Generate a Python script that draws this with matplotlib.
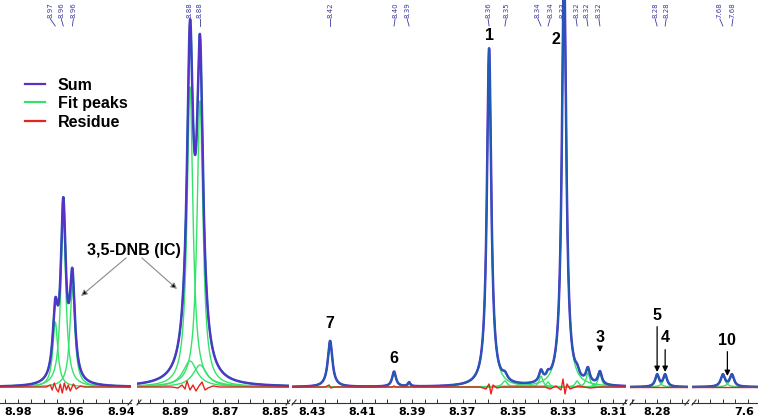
import numpy as np
import matplotlib
matplotlib.use("Agg")
import matplotlib.pyplot as plt
from matplotlib.ticker import FixedLocator, FixedFormatter, MultipleLocator

# ---- data (ppm) ----
seg_ppm = [(8.9871, 8.9364), (8.9052, 8.8444), (8.4380, 8.3048), (8.2908, 8.2677), (7.6923, 7.6660)]

# fitted Lorentzian peaks per segment: centre (ppm), height, half width (ppm)
peak_c = [
    [8.9657, 8.9626, 8.9591],
    [8.8840, 8.8800, 8.8840, 8.8800],
    [8.4228, 8.3973, 8.3913, 8.3594, 8.3531, 8.3387, 8.3359, 8.3295, 8.3243, 8.3200, 8.3152],
    [8.2800, 8.2768],
    [7.6800, 7.6764],
]
peak_h = [
    [65, 172, 100],
    [300, 286, 26, 22],
    [46, 15, 4, 338, 6, 11, 5, 420, 6, 14, 13],
    [12, 12],
    [12, 12],
]
peak_w = [
    [0.00116, 0.00116, 0.00116],
    [0.00142, 0.00142, 0.0034, 0.0034],
    [0.0011, 0.0009, 0.0006, 0.00104, 0.0012, 0.0009, 0.0008, 0.00104, 0.0009, 0.0009, 0.0009],
    [0.0009, 0.0009],
    [0.0010, 0.0010],
]

# residue
res_ppm = [
    [8.9692, 8.9676, 8.9669, 8.9661, 8.9653, 8.9645, 8.9638, 8.9630, 8.9622, 8.9614,
     8.9607, 8.9599, 8.9587, 8.9576, 8.9560, 8.9545],
    [8.8912, 8.8888, 8.8872, 8.8860, 8.8852, 8.8840, 8.8828, 8.8816, 8.8804, 8.8792,
     8.8780, 8.8768, 8.8748, 8.8720],
    [8.42482, 8.42322, 8.42242, 8.42123, 8.39810, 8.39730, 8.39651, 8.36301, 8.36062,
     8.35943, 8.35863, 8.35783, 8.35624, 8.35424, 8.33710, 8.33510, 8.33271, 8.33072,
     8.32992, 8.32912, 8.32833, 8.32713, 8.32394, 8.31915, 8.31517],
    [],
    [],
]
res_val = [
    [0, 2, -3, 4, -2, -5, 3, -6, 4, -3, 2, -4, 3, -2, 1, 0],
    [0, -1, 2, -2, 6, -3, 2, -4, 1, 5, -3, -1, 1, 0],
    [0, 2, -1, 0, 0, 1, 0, 0, -2, 3, -7, 2, -1, 0, 0, -2, 1, -3, 8, -7, 3, -2, 1, -1, 0],
    [],
    [],
]

tick_vals = [[8.98, 8.96, 8.94], [8.89, 8.87, 8.85],
             [8.43, 8.41, 8.39, 8.37, 8.35, 8.33, 8.31], [8.28], [7.67]]
tick_text = [["8.98", "8.96", "8.94"], ["8.89", "8.87", "8.85"],
             ["8.43", "8.41", "8.39", "8.37", "8.35", "8.33", "8.31"], ["8.28"], ["7.6"]]

# peak-pick labels on top
pick_ppm = [
    [8.9676, 8.9634, 8.9587],
    [8.8840, 8.8800],
    [8.4228, 8.3969, 8.3921, 8.3598, 8.3526, 8.3399, 8.3351, 8.3303, 8.3247, 8.3204, 8.3156],
    [8.2808, 8.2764],
    [7.6812, 7.6760],
]
pick_txt = [
    ["8.97", "8.96", "8.96"],
    ["8.88", "8.88"],
    ["8.42", "8.40", "8.39", "8.36", "8.35", "8.34", "8.34", "8.33", "8.32", "8.32", "8.32"],
    ["8.28", "8.28"],
    ["7.68", "7.68"],
]

# ---- layout ----
W, H = 758, 419
seg_px = [(0, 131), (137, 289), (292, 626), (630, 688), (692, 758)]

c_sum = "#5a30c8"
c_fit = "#35e36a"
c_res = "#e8231d"
c_exp = "#1c5fb2"
c_pick = "#3a3a9e"
bold = dict(family="Liberation Sans", weight="bold", size=11.5)

fig = plt.figure(figsize=(W / 100, H / 100), dpi=100)
axes = []
for i, ((x0, x1), (p0, p1)) in enumerate(zip(seg_px, seg_ppm)):
    ax = fig.add_axes([x0 / W, 16 / H, (x1 - x0) / W, (H - 16) / H])
    ax.patch.set_visible(False)
    ax.set_xlim(p0, p1)
    ax.set_ylim(-16, 387)

    x = np.linspace(p0, p1, 3000)
    total = np.zeros_like(x)
    for c, h, w in zip(peak_c[i], peak_h[i], peak_w[i]):
        y = h * w ** 2 / ((x - c) ** 2 + w ** 2)
        total += y
        ax.plot(x, y, color=c_fit, lw=1.0, zorder=2)
    if i < 2:
        ax.plot(x, total, color=c_exp, lw=1.8, zorder=3)
        ax.plot(x, total, color=c_sum, lw=1.2, zorder=4)
    else:
        ax.plot(x, total, color=c_sum, lw=1.8, zorder=3)
        ax.plot(x, total, color=c_exp, lw=1.2, zorder=4)
    ax.plot([p0] + res_ppm[i] + [p1], [0] + res_val[i] + [0], color=c_res, lw=1.0, zorder=5)

    for s in ["top", "left", "right"]:
        ax.spines[s].set_visible(False)
    ax.spines["bottom"].set_color("#333333")
    ax.spines["bottom"].set_linewidth(0.8)
    ax.set_yticks([])
    ax.xaxis.set_major_locator(FixedLocator(tick_vals[i]))
    last = i == len(seg_px) - 1
    ax.xaxis.set_major_formatter(FixedFormatter([""] * len(tick_vals[i]) if last else tick_text[i]))
    ax.xaxis.set_minor_locator(MultipleLocator(0.005))
    ax.tick_params(axis="x", which="both", direction="in", length=3, width=0.7,
                   color="#333333", pad=3)
    for lab in ax.get_xticklabels():
        lab.set_fontfamily("DejaVu Sans")
        lab.set_fontweight("bold")
        lab.set_fontsize(8)
    if last:
        # label sits against the right edge of the figure
        ax.annotate(tick_text[i][0], xy=(tick_vals[i][0], 0),
                    xycoords=("data", "axes fraction"), xytext=(-3, -3),
                    textcoords="offset points", ha="center", va="top",
                    family="DejaVu Sans", weight="bold", fontsize=8, annotation_clip=False)

    # peak-pick labels
    tr = matplotlib.transforms.blended_transform_factory(ax.transData, fig.transFigure)
    for px, t in zip(pick_ppm[i], pick_txt[i]):
        near = min(peak_c[i], key=lambda c: abs(c - px))
        ax.text(px, 1 - 2 / H, t, rotation=90, ha="center", va="top", fontsize=5,
                color=c_pick, transform=tr, clip_on=False)
        ax.plot([px, near], [1 - 19 / H, 1 - 26 / H], color=c_pick, lw=0.6,
                transform=tr, clip_on=False)
    axes.append(ax)

ax3, ax4, ax5 = axes[2], axes[3], axes[4]
for ax, x, y, t in [(ax3, 8.4228, 63, "7"), (ax3, 8.3973, 29, "6"),
                    (ax3, 8.3594, 351, "1"), (ax3, 8.3327, 347, "2")]:
    ax.text(x, y, t, ha="center", va="center", clip_on=False, **bold)

arrow = dict(arrowstyle="-|>", color="black", lw=0.9, mutation_scale=8, shrinkA=1, shrinkB=0)
for ax, x, ytxt, ytip, t in [(ax3, 8.3152, 50, 35, "3"), (ax4, 8.2800, 72, 15, "5"),
                             (ax4, 8.2768, 49, 15, "4"), (ax5, 7.6782, 47, 11, "10")]:
    ax.annotate(t, xy=(x, ytip), xytext=(x, ytxt), ha="center", va="center",
                arrowprops=arrow, annotation_clip=False, **bold)

# overlay in pixel coordinates for legend, annotation and axis breaks
ov = fig.add_axes([0, 0, 1, 1], zorder=10)
ov.set_xlim(0, W)
ov.set_ylim(H, 0)
ov.axis("off")
ov.patch.set_visible(False)

for y, col, lab in [(84, c_sum, "Sum"), (102, c_fit, "Fit peaks"), (121, c_res, "Residue")]:
    ov.plot([25, 45], [y, y], color=col, lw=1.6)
    ov.text(58, y + 1, lab, ha="left", va="center", **bold)

ov.text(134, 250, "3,5-DNB (IC)", ha="center", va="center", **bold)
dnb_arrow = dict(arrowstyle="-|>", ec="#8a8a8a", fc="black", lw=0.8, mutation_scale=9,
                 shrinkA=0, shrinkB=0)
ov.annotate("", xy=(81, 296), xytext=(126, 258), arrowprops=dnb_arrow)
ov.annotate("", xy=(177, 289), xytext=(142, 258), arrowprops=dnb_arrow)

for (a0, a1), (b0, b1) in zip(seg_px[:-1], seg_px[1:]):
    for xb in (a1 - 1, b0 + 2):
        ov.plot([xb - 2, xb + 2], [405, 400], color="#333333", lw=0.8)

fig.savefig("out.png", dpi=100)
